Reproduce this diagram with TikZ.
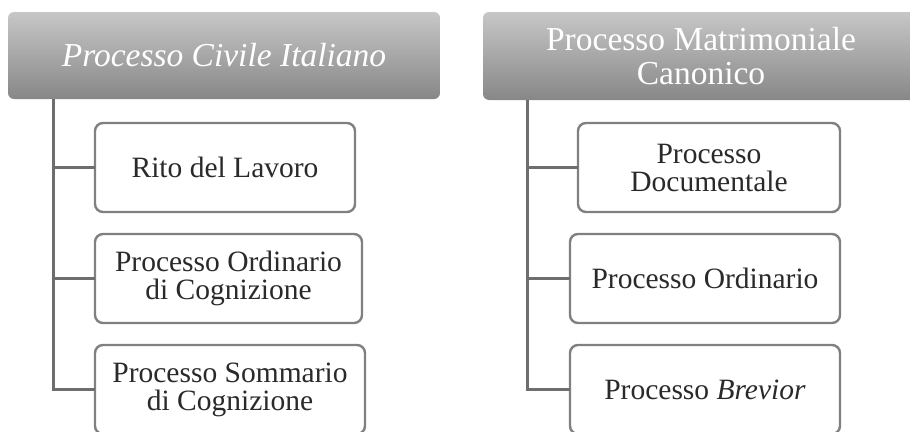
\documentclass[tikz,border=0pt]{standalone}
\usepackage{fontspec}
\setmainfont{Liberation Serif}
\usepackage{xcolor}
\usepackage{tikz}
\usetikzlibrary{positioning}

\definecolor{bordo}{HTML}{808080}
\definecolor{linea}{HTML}{6E6E6E}
\definecolor{testo}{HTML}{2A2A2A}

\begin{document}
\begin{tikzpicture}[x=1pt, y=-1pt,
    testata/.style={rectangle, rounded corners=6pt, top color=black!22, bottom color=black!47, draw=none, text=white, align=center, inner sep=0pt, outer sep=0pt, font=\fontsize{33.5}{34}\selectfont},
    voce/.style={rectangle, rounded corners=8pt, draw=bordo, line width=2.4pt, fill=white, text=testo, align=center, minimum height=89pt, inner sep=0pt, outer sep=0pt, font=\fontsize{29.5}{28}\selectfont},
    ramo/.style={draw=linea, line width=3pt}]
        \useasboundingbox (0,0) rectangle (910,431);
        \clip (0,0) rectangle (910,431);

        % testate
        \node (civile) [testata, minimum width=432pt, minimum height=87pt] at (224,55.5) {\itshape Processo Civile Italiano};
        \node (canonico) [testata, minimum width=436pt, minimum height=88pt] at (701,56) {Processo Matrimoniale\\Canonico};

        % voci a sinistra
        \node (rito) [voce, minimum width=260pt, anchor=north west] at (95,123) {Rito del Lavoro};
        \node (ordciv) [voce, minimum width=267pt, below right=22pt and 0pt of rito.south west] {Processo Ordinario\\di Cognizione};
        \node (sommciv) [voce, minimum width=270pt, below right=22pt and 0pt of ordciv.south west] {Processo Sommario\\di Cognizione};

        % voci a destra
        \node (documentale) [voce, minimum width=262pt, anchor=north west] at (578,123) {Processo\\Documentale};
        \node (ordcan) [voce, minimum width=270pt, anchor=north west] at (570,234) {Processo Ordinario};
        \node (brevior) [voce, minimum width=270pt, below right=22pt and 0pt of ordcan.south west] {Processo \textit{Brevior}};

        \coordinate (troncoL) at ([xshift=45pt]civile.south west);
        \coordinate (troncoR) at ([xshift=44pt]canonico.south west);

        \draw[ramo] (troncoL) |- (rito.west);
        \draw[ramo] (troncoL) |- (ordciv.west);
        \draw[ramo] (troncoL) |- (sommciv.west);
        \draw[ramo] (troncoR) |- (documentale.west);
        \draw[ramo] (troncoR) |- (ordcan.west);
        \draw[ramo] (troncoR) |- (brevior.west);
    \end{tikzpicture}
\end{document}
